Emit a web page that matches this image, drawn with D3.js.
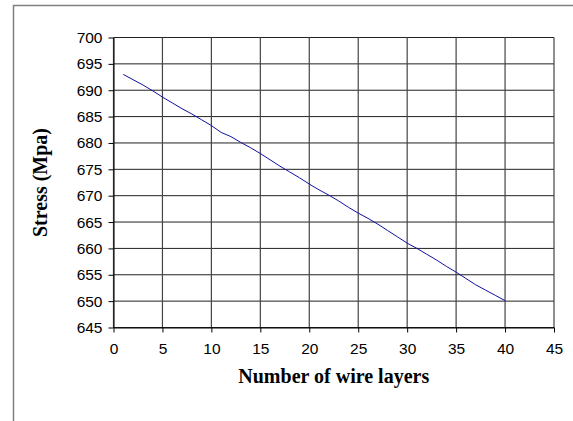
<!DOCTYPE html>
<html>
<head>
<meta charset="utf-8">
<script src="https://cdn.jsdelivr.net/npm/d3@7"></script>
<style>
  body { margin: 0; background: #fff; }
</style>
</head>
<body>
<div id="chart"></div>
<script>
// wire layers and stress
const layers = d3.range(1, 41);
const stress = [693.0, 692.0, 691.0, 689.9, 688.7, 687.6, 686.5, 685.5, 684.4, 683.3,
                682.0, 681.2, 680.1, 679.1, 678.0, 676.8, 675.6, 674.5, 673.4, 672.2,
                671.1, 670.1, 669.0, 667.8, 666.7, 665.7, 664.6, 663.4, 662.2, 661.0,
                660.0, 658.9, 657.8, 656.6, 655.5, 654.3, 653.1, 652.1, 651.1, 650.1];
const xTicks = d3.range(0, 46, 5);
const yTicks = d3.range(645, 701, 5);

const svgWidth = 573, svgHeight = 421;
const margin = { top: 37.5, right: 19, bottom: 93.5, left: 113.5 };
const width = svgWidth - margin.left - margin.right;
const height = svgHeight - margin.top - margin.bottom;

const svg = d3.select("#chart").append("svg")
    .attr("width", svgWidth)
    .attr("height", svgHeight);

// outer chart frame (only top and left are visible in the shot)
svg.append("path")
    .attr("d", `M13.5,${svgHeight} V5.5 H${svgWidth}`)
    .attr("fill", "none")
    .attr("stroke", "#808080")
    .attr("stroke-width", 1.5);

const g = svg.append("g")
    .attr("transform", `translate(${margin.left},${margin.top})`);

const x = d3.scaleLinear().domain([0, 45]).range([0, width]);
const y = d3.scaleLinear().domain([645, 700]).range([height, 0]);

// grid
g.append("g").selectAll("line")
    .data(yTicks)
    .enter().append("line")
    .attr("x1", 0).attr("x2", width)
    .attr("y1", d => y(d)).attr("y2", d => y(d))
    .attr("stroke", "#222").attr("stroke-width", 1);

g.append("g").selectAll("line")
    .data(xTicks)
    .enter().append("line")
    .attr("y1", 0).attr("y2", height)
    .attr("x1", d => x(d)).attr("x2", d => x(d))
    .attr("stroke", "#444").attr("stroke-width", 1.2);

// axes
const xAxis = g.append("g")
    .attr("transform", `translate(0,${height})`)
    .call(d3.axisBottom(x).tickValues(xTicks).tickSize(5).tickPadding(10).tickSizeOuter(0));
const yAxis = g.append("g")
    .call(d3.axisLeft(y).tickValues(yTicks).tickSize(5).tickPadding(6).tickSizeOuter(0));

[xAxis, yAxis].forEach(a => {
  a.select(".domain").attr("stroke", "#000");
  a.selectAll(".tick line").attr("stroke", "#000");
  a.selectAll("text")
      .attr("fill", "#000")
      .style("font-family", "'Liberation Sans', Arial, sans-serif")
      .style("font-size", "15.5px");
});

// the line
const line = d3.line()
    .x((d, i) => x(layers[i]))
    .y(d => y(d));

g.append("path")
    .datum(stress)
    .attr("d", line)
    .attr("fill", "none")
    .attr("stroke", "#1010a0")
    .attr("stroke-width", 1);

// titles
g.append("text")
    .attr("x", width / 2)
    .attr("y", height + 55)
    .attr("text-anchor", "middle")
    .style("font-family", "'Liberation Serif', 'Times New Roman', serif")
    .style("font-weight", "bold")
    .style("font-size", "20px")
    .text("Number of wire layers");

g.append("text")
    .attr("transform", `translate(${-67},${height / 2}) rotate(-90)`)
    .attr("text-anchor", "middle")
    .style("font-family", "'Liberation Serif', 'Times New Roman', serif")
    .style("font-weight", "bold")
    .style("font-size", "20px")
    .text("Stress (Mpa)");
</script>
</body>
</html>
